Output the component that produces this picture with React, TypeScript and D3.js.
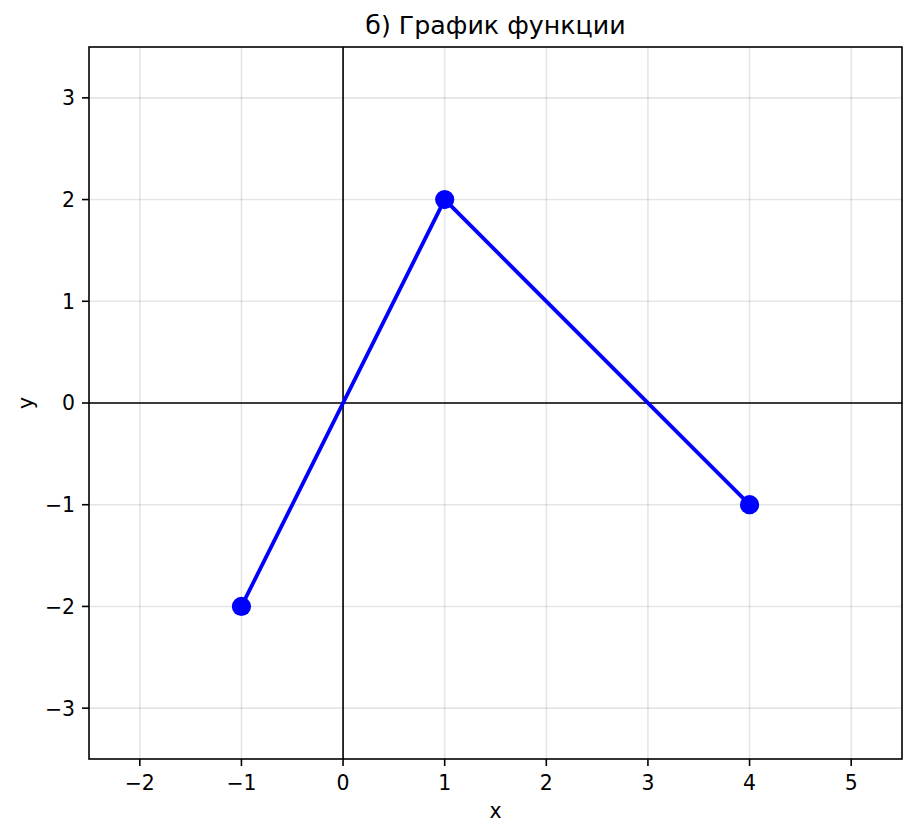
import React from 'react';
import * as d3 from 'd3';

// points of the piecewise linear function
const xs = [-1, 1, 4];
const ys = [-2, 2, -1];
const xTicks = [-2, -1, 0, 1, 2, 3, 4, 5];
const yTicks = [-3, -2, -1, 0, 1, 2, 3];
const xDomain = [-2.5, 5.5];
const yDomain = [-3.5, 3.5];

const W = 917;
const H = 837;
const margin = { top: 47, right: 15, bottom: 78, left: 89 };
const font = "'DejaVu Sans', sans-serif";

const fmt = (v: number) => (v < 0 ? '\u2212' + Math.abs(v) : String(v));

const App = () => {
  const innerW = W - margin.left - margin.right;
  const innerH = H - margin.top - margin.bottom;

  const x = d3.scaleLinear().domain(xDomain).range([0, innerW]);
  const y = d3.scaleLinear().domain(yDomain).range([innerH, 0]);

  const pts: [number, number][] = xs.map((v, i) => [v, ys[i]]);
  const line = d3
    .line<[number, number]>()
    .x((d) => x(d[0]))
    .y((d) => y(d[1]));

  return (
    <svg width={W} height={H} style={{ display: 'block', position: 'absolute', left: 0, top: 0 }}>
      <rect width={W} height={H} fill="#fff" />
      <text x={margin.left + innerW / 2} y={34} textAnchor="middle" fontFamily={font} fontSize={25.3} fill="#000">
        б) График функции
      </text>
      <g transform={`translate(${margin.left},${margin.top})`}>
        {/* grid */}
        {xTicks.map((t) => (
          <line key={'gx' + t} x1={x(t)} x2={x(t)} y1={0} y2={innerH} stroke="#000" strokeOpacity={0.1} strokeWidth={1.6} />
        ))}
        {yTicks.map((t) => (
          <line key={'gy' + t} x1={0} x2={innerW} y1={y(t)} y2={y(t)} stroke="#000" strokeOpacity={0.1} strokeWidth={1.6} />
        ))}
        {/* zero axes */}
        <line x1={0} x2={innerW} y1={y(0)} y2={y(0)} stroke="#000" strokeWidth={1.6} />
        <line x1={x(0)} x2={x(0)} y1={0} y2={innerH} stroke="#000" strokeWidth={1.6} />
        {/* data */}
        <path d={line(pts) ?? ''} fill="none" stroke="#0000ff" strokeWidth={3.8} />
        {pts.map((d, i) => (
          <circle key={i} cx={x(d[0])} cy={y(d[1])} r={9.6} fill="#0000ff" />
        ))}
        {/* frame */}
        <rect x={0} y={0} width={innerW} height={innerH} fill="none" stroke="#000" strokeWidth={1.6} />
        {/* x ticks */}
        {xTicks.map((t) => (
          <g key={'tx' + t} transform={`translate(${x(t)},${innerH})`}>
            <line y1={0} y2={7} stroke="#000" strokeWidth={1.6} />
            <text y={31} textAnchor="middle" fontFamily={font} fontSize={20.4} fill="#000">
              {fmt(t)}
            </text>
          </g>
        ))}
        {/* y ticks */}
        {yTicks.map((t) => (
          <g key={'ty' + t} transform={`translate(0,${y(t)})`}>
            <line x1={0} x2={-7} stroke="#000" strokeWidth={1.6} />
            <text x={-14} dy="0.36em" textAnchor="end" fontFamily={font} fontSize={20.4} fill="#000">
              {fmt(t)}
            </text>
          </g>
        ))}
      </g>
      <text x={margin.left + innerW / 2} y={818} textAnchor="middle" fontFamily={font} fontSize={20.4} fill="#000">
        x
      </text>
      <text transform={`translate(33,${margin.top + innerH / 2}) rotate(-90)`} textAnchor="middle" fontFamily={font} fontSize={20.4} fill="#000">
        y
      </text>
    </svg>
  );
};

export default App;
